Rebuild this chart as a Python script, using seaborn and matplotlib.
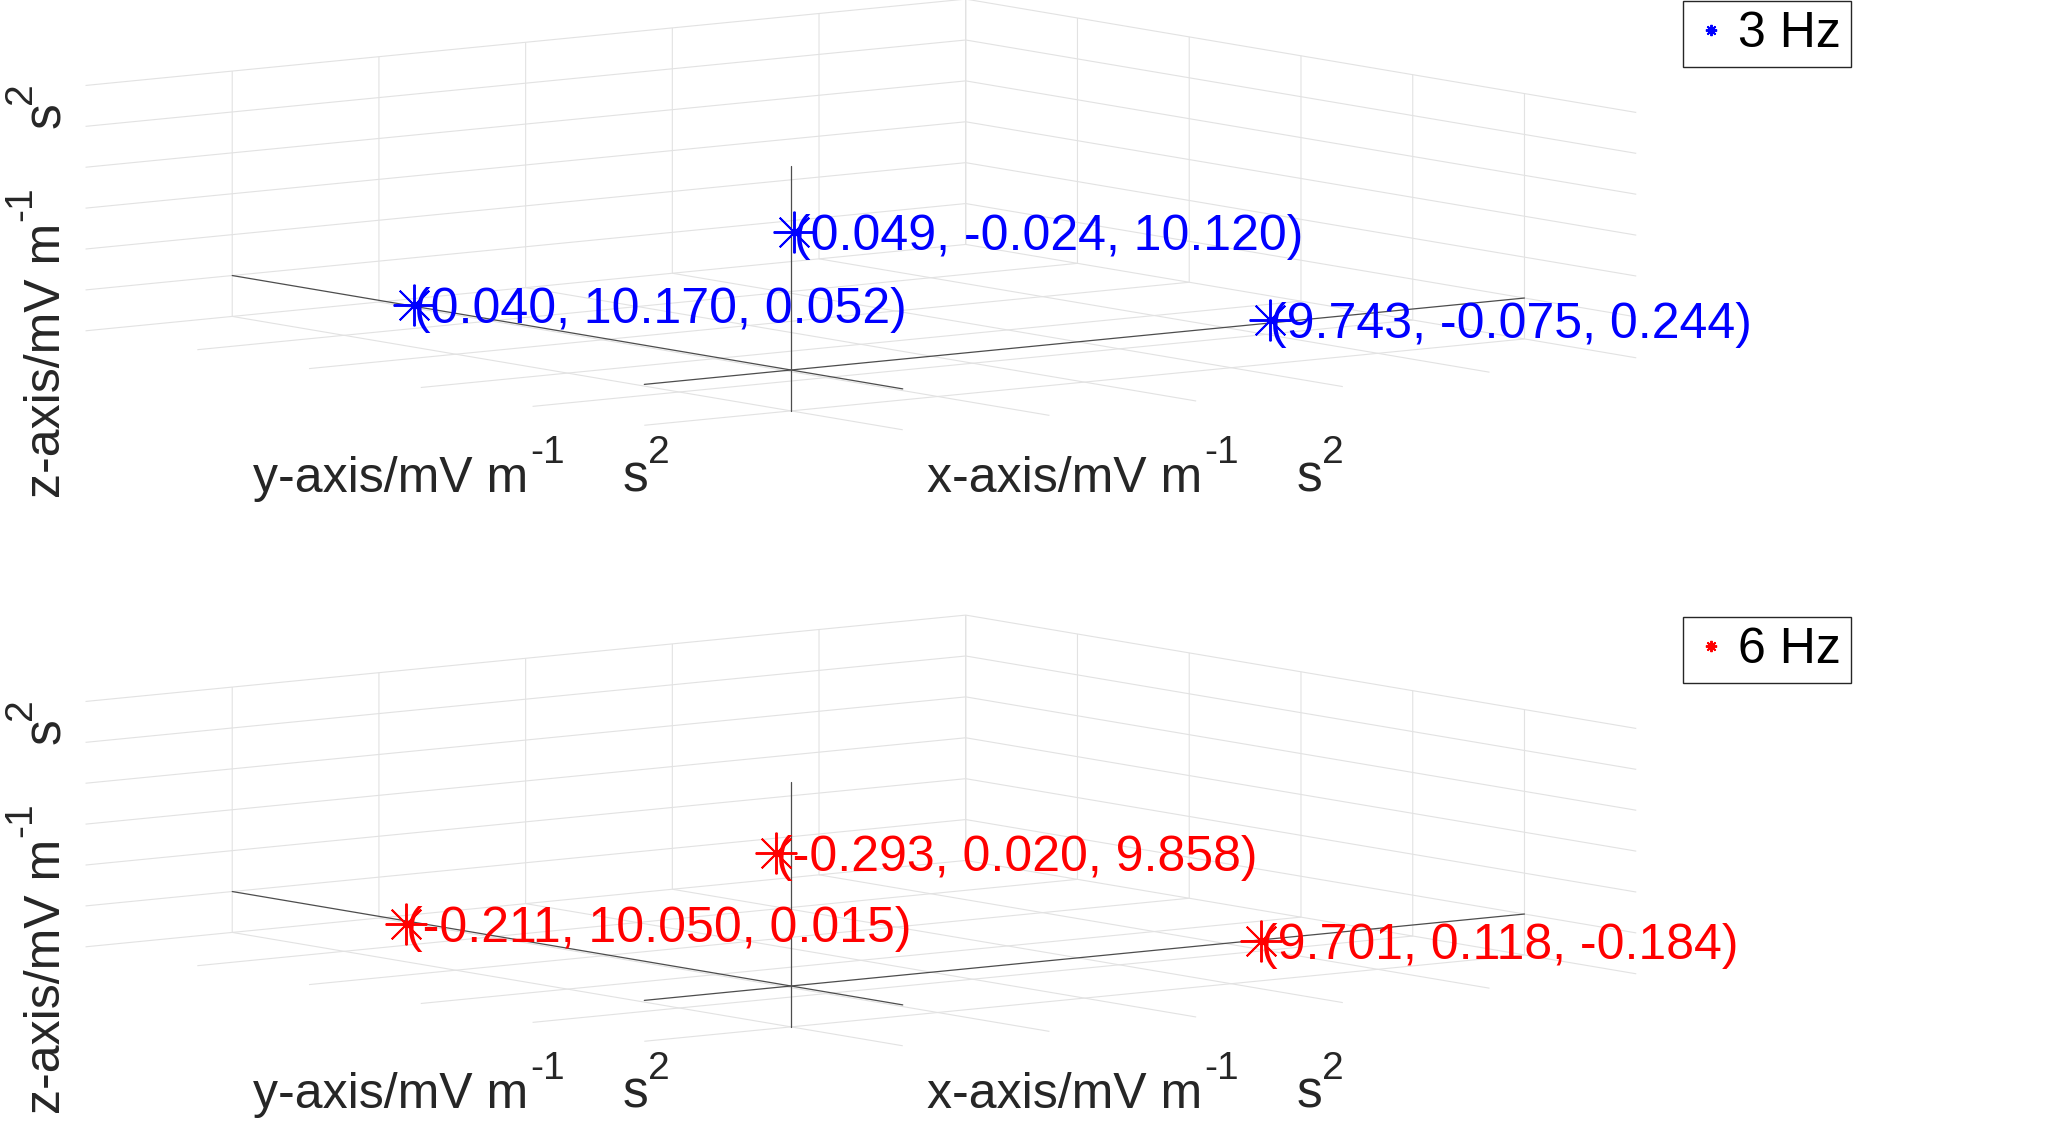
import numpy as np
import matplotlib
matplotlib.use('Agg')
import matplotlib.pyplot as plt
import seaborn as sns
from mpl_toolkits.mplot3d import proj3d

sns.set_theme(style='white')
plt.rcParams['font.family'] = ['Liberation Sans', 'DejaVu Sans']
if 'axes3d.automargin' in plt.rcParams:
    plt.rcParams['axes3d.automargin'] = False

# measured peaks per axis orientation
x_3hz = [0.049, 0.040, 9.743]
y_3hz = [-0.024, 10.170, -0.075]
z_3hz = [10.120, 0.052, 0.244]
x_6hz = [-0.293, -0.211, 9.701]
y_6hz = [0.020, 10.050, 0.118]
z_6hz = [9.858, 0.015, -0.184]
names = ['3 Hz', '6 Hz']
colors = ['blue', 'red']
axis_lim = [-3, 15]
ticks = [0, 3, 6, 9, 12, 15]
axis_names = ['x-axis', 'y-axis', 'z-axis']

W, H = 2067, 1121
fig = plt.figure(figsize=(W / 100, H / 100), dpi=100)
fig.patch.set_facecolor('white')

panels = [(x_3hz, y_3hz, z_3hz, names[0], colors[0], 0),
          (x_6hz, y_6hz, z_6hz, names[1], colors[1], 616)]


def project(ax, xs, ys, zs):
    x2, y2, _ = proj3d.proj_transform(np.asarray(xs, float), np.asarray(ys, float),
                                      np.asarray(zs, float), ax.get_proj())
    return ax.transData.transform(np.column_stack([x2, y2]))


def unit_label(renderer, x0, y0, name, rotate=False):
    # label like 'x-axis/mV m^{-1} s^2', pieces chained one after another
    parts = [(name + '/mV m', 36, 0, 0), ('-1', 28, 29, 2),
             ('s', 37, 0, 58), ('2', 28, 29, -1)]
    pos = 0
    for s, size, rise, gap in parts:
        pos += gap
        if rotate:
            t = fig.text((x0 - rise) / W, (y0 + pos) / H, s, fontsize=size,
                         rotation=90, rotation_mode='anchor', ha='left',
                         va='baseline', color='0.15')
            pos += t.get_window_extent(renderer).height
        else:
            t = fig.text((x0 + pos) / W, (y0 + rise) / H, s, fontsize=size,
                         ha='left', va='baseline', color='0.15')
            pos += t.get_window_extent(renderer).width


axes = []
S0 = 1600
for xs, ys, zs, name, col, dy in panels:
    ox, oy = 791, H - (370 + dy)
    ax = fig.add_axes([(ox - S0 / 2) / W, (oy - S0 / 2) / H, S0 / W, S0 / H],
                      projection='3d', proj_type='ortho')
    ax.set_facecolor((1, 1, 1, 0))
    ax.set_xlim(axis_lim)
    ax.set_ylim(axis_lim)
    ax.set_zlim(axis_lim)
    ax.set_box_aspect((1, 1, 0.2236))
    ax.view_init(elev=7.4, azim=-127.3)
    ax.set_xticks(ticks)
    ax.set_yticks(ticks)
    ax.set_zticks(ticks)
    ax.title.set_visible(False)
    for a in (ax.xaxis, ax.yaxis, ax.zaxis):
        a.set_pane_color((1, 1, 1, 0))
        a.pane.set_edgecolor((1, 1, 1, 0))
        a.line.set_color((1, 1, 1, 0))
        a.set_tick_params(label1On=False, label2On=False, length=0,
                          color=(1, 1, 1, 0))
        a.label.set_visible(False)
        a.offsetText.set_visible(False)
        a._axinfo['tick']['inward_factor'] = 0
        a._axinfo['tick']['outward_factor'] = 0
        a._axinfo['grid'].update(color='#e2e2e2', linewidth=0.8, linestyle='-')

    # axis lines through the origin
    zero = [0, 0]
    ax.plot(axis_lim, zero, zero, color='0.3', lw=0.9)
    ax.plot(zero, axis_lim, zero, color='0.3', lw=0.9)
    ax.plot(zero, zero, axis_lim, color='0.3', lw=0.9)

    ax.plot(xs, ys, zs, linestyle='none', marker=(8, 2, 0), markersize=30,
            markeredgewidth=1.4, color=col, label=name)
    for x, y, z in zip(xs, ys, zs):
        ax.text(x, y, z, f'({x:.3f}, {y:.3f}, {z:.3f})', color=col,
                fontsize=36, ha='left', va='center_baseline')

    leg = ax.legend(loc='upper right', bbox_to_anchor=(1851 / W, 1 - (1 + dy) / H),
                    bbox_transform=fig.transFigure, borderaxespad=0, borderpad=0.2,
                    handlelength=0.72, handletextpad=0.18, fontsize=36,
                    frameon=True, fancybox=False, framealpha=1, edgecolor='0.15',
                    markerscale=0.27)
    leg.get_frame().set_linewidth(1.0)
    for t in leg.get_texts():
        t.set_color('black')
    axes.append((ax, ox, oy, dy))

# fit each 3D box onto the target frame
fig.canvas.draw()
renderer = fig.canvas.get_renderer()
target_span = 1550.7
for ax, ox, oy, dy in axes:
    p = project(ax, [-3, 15], [15, -3], [0, 0])
    o = project(ax, [0], [0], [0])[0]
    span0 = p[1, 0] - p[0, 0]
    k = target_span / span0
    c0 = np.array([ox, oy])
    S = k * S0
    c = np.array([ox, oy]) - k * (o - c0)
    ax.set_position([(c[0] - S / 2) / W, (c[1] - S / 2) / H, S / W, S / H])

    unit_label(renderer, 253, H - (491.7 + dy), axis_names[1])
    unit_label(renderer, 927, H - (491.7 + dy), axis_names[0])
    unit_label(renderer, 60, H - (498 + dy), axis_names[2], rotate=True)

fig.savefig('out.png', dpi=100)
